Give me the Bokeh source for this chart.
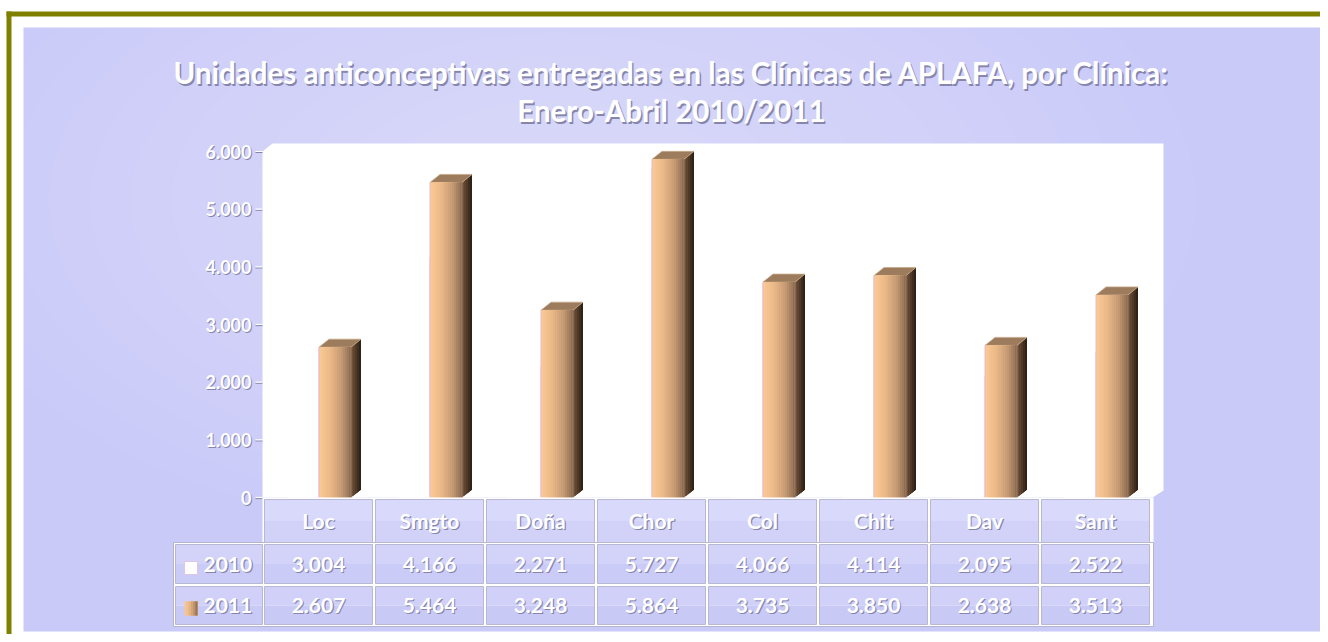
from bokeh.plotting import figure
from bokeh.models import Range1d
from bokeh.core.properties import value
from bokeh.embed import file_html
from bokeh.resources import INLINE

# ---------------- data ----------------
title_line1 = "Unidades anticonceptivas entregadas en las Clínicas de APLAFA, por Clínica:"
title_line2 = "Enero-Abril 2010/2011"
clinics = ["Loc", "Smgto", "Doña", "Chor", "Col", "Chit", "Dav", "Sant"]
series_names = ["2010", "2011"]
values_2010 = [3004, 4166, 2271, 5727, 4066, 4114, 2095, 2522]
values_2011 = [2607, 5464, 3248, 5864, 3735, 3850, 2638, 3513]
y_ticks = [0, 1000, 2000, 3000, 4000, 5000, 6000]
y_tick_labels = ["0", "1.000", "2.000", "3.000", "4.000", "5.000", "6.000"]

# ---------------- geometry (pixels) ----------------
W, H = 1320, 634
OFF = 0
CAT_PX = 111.0
X_ORG = 264.0
Y_ZERO = 497.0
Y_MAX_PX = 151.0
Y_MAX = 6000.0
PY = (Y_ZERO - Y_MAX_PX) / Y_MAX


def X(px):
    return (px - X_ORG) / CAT_PX


def Y(py):
    return (Y_ZERO - py) / PY


def DX(px):
    return px / CAT_PX


def DY(px):
    return px / PY


def fmt(v):
    return f"{v:,}".replace(",", ".")


def hex2rgb(h):
    h = h.lstrip("#")
    return tuple(int(h[i:i + 2], 16) for i in (0, 2, 4))


def lerp(stops, t):
    for (t0, c0), (t1, c1) in zip(stops[:-1], stops[1:]):
        if t0 <= t <= t1:
            a = (t - t0) / (t1 - t0) if t1 > t0 else 0
            r0, r1 = hex2rgb(c0), hex2rgb(c1)
            r = [round(r0[k] + (r1[k] - r0[k]) * a) for k in range(3)]
            return "#%02x%02x%02x" % tuple(r)
    return stops[-1][1]


FONT = value("Lato")
SHADOW = "#8686ac"

p = figure(width=W, height=H, output_backend="svg", toolbar_location=None,
           x_range=Range1d(X(OFF), X(OFF + W)), y_range=Range1d(Y(OFF + H), Y(OFF)),
           x_axis_location=None, y_axis_location=None, min_border=0)
p.grid.visible = False
p.outline_line_color = None
p.background_fill_color = "white"
p.border_fill_color = "white"

# ---------------- panel background ----------------
p.quad(left=[X(23)], right=[X(1320)], top=[Y(27)], bottom=[Y(631)],
       fill_color="#cacaf9", line_color=None)
n_glow = 14
for k in range(n_glow):
    f = 1.0 - k / n_glow
    p.ellipse(x=[X(560)], y=[Y(200)], width=[DX(1150 * f + 120)], height=[DY(620 * f + 70)],
              fill_color="white", fill_alpha=0.022, line_color=None)

# ---------------- title ----------------
for txt, cy in [(title_line1, 72), (title_line2, 110)]:
    p.text(x=[X(671)], y=[Y(cy)], text=[txt], text_font=FONT, text_font_style="bold",
           text_font_size="29.5px", text_color=SHADOW, text_align="center",
           text_baseline="middle", x_offset=1.5, y_offset=1.5)
    p.text(x=[X(671)], y=[Y(cy)], text=[txt], text_font=FONT, text_font_style="bold",
           text_font_size="29.5px", text_color="white", text_align="center",
           text_baseline="middle")

# ---------------- plot wall (white) ----------------
p.patch(x=[X(262), X(272), X(1163), X(1163), X(1152), X(262)],
        y=[Y(151), Y(143), Y(143), Y(490), Y(497), Y(497)],
        fill_color="white", line_color=None)

# ---------------- y axis ----------------
ax_x = X(262)
nt = len(y_ticks)
p.segment(x0=[ax_x - DX(7)] * nt, y0=[t - DY(1) for t in y_ticks],
          x1=[ax_x] * nt, y1=[t - DY(1) for t in y_ticks],
          line_color=SHADOW, line_width=1.2)
p.segment(x0=[ax_x - DX(7)] * nt, y0=y_ticks, x1=[ax_x] * nt, y1=y_ticks,
          line_color="white", line_width=1.2)
p.text(x=[X(251)] * nt, y=y_ticks, text=y_tick_labels, text_font=FONT,
       text_font_style="bold", text_font_size="18px", text_color=SHADOW,
       text_align="right", text_baseline="middle", x_offset=1, y_offset=1)
p.text(x=[X(251)] * nt, y=y_ticks, text=y_tick_labels, text_font=FONT,
       text_font_style="bold", text_font_size="18px", text_color="white",
       text_align="right", text_baseline="middle")

# ---------------- bars ----------------
front_stops = [(0.0, "#fcc994"), (0.35, "#ebb988"), (0.7, "#c59a73"), (0.9, "#a07c5c"), (1.0, "#846650")]
side_stops = [(0.0, "#76573c"), (1.0, "#281c12")]
N_FRONT, N_SIDE = 16, 5
depth_x, depth_y = DX(10), DY(8)
bw = DX(32)

# 2010 bars (white, barely visible)
for i, v in enumerate(values_2010):
    c = i + 0.5
    l, r = c - DX(33), c - DX(1)
    p.quad(left=[l], right=[r], bottom=[0], top=[v], fill_color="white", line_color=None)
    p.segment(x0=[r], y0=[0], x1=[r], y1=[min(v, values_2011[i])],
              line_color="#e6c6e6", line_width=1)

# 2011 bars
fl, fr, fb, ft, fc = [], [], [], [], []
sx, sy, sc = [], [], []
tx, ty = [], []
for i, v in enumerate(values_2011):
    c = i + 0.5
    l = c - DX(1)
    r = l + bw
    for k in range(N_FRONT):
        fl.append(l + bw * k / N_FRONT)
        fr.append(r)
        fb.append(0)
        ft.append(v)
        fc.append(lerp(front_stops, (k + 0.5) / N_FRONT))
    for k in range(N_SIDE):
        a0 = r + depth_x * k / N_SIDE
        a1 = r + depth_x
        h0 = depth_y * k / N_SIDE
        h1 = depth_y
        sx.append([a0, a1, a1, a0])
        sy.append([h0, h1, v + h1, v + h0])
        sc.append(lerp(side_stops, (k + 0.5) / N_SIDE))
    tx.append([l, r, r + depth_x, l + depth_x])
    ty.append([v, v, v + depth_y, v + depth_y])

p.patches(xs=sx, ys=sy, fill_color=sc, line_color=None)
p.patches(xs=tx, ys=ty, fill_color="#9c7c5c", line_color="#c8a888", line_width=0.8)
p.quad(left=fl, right=fr, bottom=fb, top=ft, fill_color=fc, line_color=None)
# front edges
p.segment(x0=[i + 0.5 - DX(1) for i in range(8)], y0=[0] * 8,
          x1=[i + 0.5 - DX(1) for i in range(8)], y1=values_2011,
          line_color="#e9b8c8", line_width=1)
p.segment(x0=[i + 0.5 - DX(1) + bw for i in range(8)], y0=[0] * 8,
          x1=[i + 0.5 - DX(1) + bw for i in range(8)], y1=values_2011,
          line_color="#9c7e64", line_width=1)

# ---------------- data table ----------------
header = (499, 542)
row2010 = (544, 583)
row2011 = (586, 624)
cell_l = [X_ORG + i * CAT_PX for i in range(len(clinics))]
cell_r = [x + 108 for x in cell_l]

# white backdrops
p.quad(left=[X(262)], right=[X(1153)], top=[Y(497)], bottom=[Y(544)],
       fill_color="white", line_color=None)
p.quad(left=[X(173)], right=[X(1153)], top=[Y(542)], bottom=[Y(626)],
       fill_color="white", line_color="#b4b4cc", line_width=1)

rows = [(header, "#d9d9fb", "#d2d2f9"), (row2010, "#d3d3fa", "#cbcbf7"), (row2011, "#d0d0f9", "#c9c9f6")]
for (t, b), c_top, c_bot in rows:
    mid = (t + b) / 2
    lefts = [X(x) for x in cell_l]
    rights = [X(x) for x in cell_r]
    if (t, b) != header:
        lefts = [X(175)] + lefts
        rights = [X(262)] + rights
    n = len(lefts)
    p.quad(left=lefts, right=rights, top=[Y(t)] * n, bottom=[Y(mid)] * n,
           fill_color=c_top, line_color=None)
    p.quad(left=lefts, right=rights, top=[Y(mid)] * n, bottom=[Y(b)] * n,
           fill_color=c_bot, line_color=None)
    p.quad(left=lefts, right=rights, top=[Y(t)] * n, bottom=[Y(b)] * n,
           fill_color=None, line_color="#b8b8d2", line_width=1)


def cell_text(xs, ys, texts, size="21px", align="center"):
    p.text(x=xs, y=ys, text=texts, text_font=FONT, text_font_style="bold",
           text_font_size=size, text_color=SHADOW, text_align=align,
           text_baseline="middle", x_offset=1.2, y_offset=1.2)
    p.text(x=xs, y=ys, text=texts, text_font=FONT, text_font_style="bold",
           text_font_size=size, text_color="white", text_align=align,
           text_baseline="middle")


centers = [X(x + 54) for x in cell_l]
cell_text(centers, [Y(sum(header) / 2 - 1)] * 8, clinics)
cell_text(centers, [Y(sum(row2010) / 2)] * 8, [fmt(v) for v in values_2010])
cell_text(centers, [Y(sum(row2011) / 2)] * 8, [fmt(v) for v in values_2011])

# legend keys
p.quad(left=[X(184)], right=[X(197)], top=[Y(561)], bottom=[Y(574)],
       fill_color="white", line_color="#e0c4e0", line_width=1)
for k in range(6):
    p.quad(left=[X(184 + 13 * k / 6)], right=[X(197)],
           top=[Y(601)], bottom=[Y(615)], fill_color=lerp(front_stops, (k + 0.5) / 6),
           line_color=None)
cell_text([X(203), X(203)], [Y(sum(row2010) / 2), Y(sum(row2011) / 2)], series_names,
          size="21px", align="left")

# ---------------- olive frame ----------------
p.quad(left=[X(6)], right=[X(11)], top=[Y(11)], bottom=[Y(660)],
       fill_color="#808000", line_color=None)
p.quad(left=[X(6)], right=[X(1340)], top=[Y(11)], bottom=[Y(16)],
       fill_color="#808000", line_color=None)

open("out.html", "w").write(file_html(p, INLINE))
